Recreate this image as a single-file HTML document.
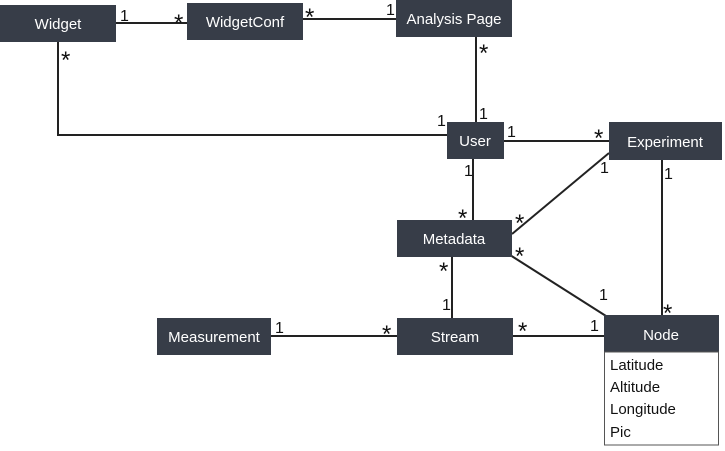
<!DOCTYPE html><html><head><style>
body{margin:0;background:#fff;}
svg text{font-family:"Liberation Sans",sans-serif;}
</style></head><body>
<svg width="725" height="446" xmlns="http://www.w3.org/2000/svg">
<g stroke="#222" stroke-width="2" fill="none">
<line x1="116" y1="23" x2="187" y2="23"/>
<line x1="303" y1="19" x2="396" y2="19"/>
<line x1="476" y1="37" x2="476" y2="122"/>
<polyline points="58,42 58,135 447,135"/>
<line x1="504" y1="141" x2="609" y2="141"/>
<line x1="473" y1="159" x2="473" y2="220"/>
<line x1="512" y1="234" x2="609" y2="153"/>
<line x1="510" y1="255" x2="606" y2="316"/>
<line x1="452" y1="257" x2="452" y2="318"/>
<line x1="513" y1="336" x2="604" y2="336"/>
<line x1="662" y1="160" x2="662" y2="315"/>
<line x1="271" y1="336" x2="397" y2="336"/>
</g>
<g fill="#373d48">
<rect x="0" y="5" width="116" height="37"/>
<rect x="187" y="3" width="116" height="37"/>
<rect x="396" y="0" width="116" height="37"/>
<rect x="447" y="122" width="57" height="37"/>
<rect x="609" y="122" width="113" height="38"/>
<rect x="397" y="220" width="115" height="37"/>
<rect x="397" y="318" width="116" height="37"/>
<rect x="157" y="318" width="114" height="37"/>
<rect x="604" y="315" width="115" height="37"/>
</g>
<rect x="604.5" y="352" width="114" height="93" fill="#fff" stroke="#555" stroke-width="1"/>
<g fill="#fff" font-size="15" text-anchor="middle">
<text x="58" y="29">Widget</text>
<text x="245" y="27">WidgetConf</text>
<text x="454" y="24">Analysis Page</text>
<text x="475" y="146">User</text>
<text x="665" y="147">Experiment</text>
<text x="454" y="244">Metadata</text>
<text x="455" y="342">Stream</text>
<text x="214" y="342">Measurement</text>
<text x="661" y="340">Node</text>
</g>
<g fill="#111" font-size="15">
<text x="610" y="370">Latitude</text>
<text x="610" y="392">Altitude</text>
<text x="610" y="414">Longitude</text>
<text x="610" y="437">Pic</text>
</g>
<g fill="#111" font-size="16">
<text x="120" y="21">1</text>
<text x="386" y="15">1</text>
<text x="479" y="119">1</text>
<text x="437" y="126">1</text>
<text x="507" y="137">1</text>
<text x="464" y="176">1</text>
<text x="600" y="173">1</text>
<text x="664" y="179">1</text>
<text x="442" y="310">1</text>
<text x="599" y="300">1</text>
<text x="590" y="331">1</text>
<text x="275" y="333">1</text>
</g>
<g fill="#111" font-size="24">
<text x="174" y="31">*</text>
<text x="305" y="25">*</text>
<text x="61" y="68">*</text>
<text x="479" y="61">*</text>
<text x="594" y="146">*</text>
<text x="458" y="226">*</text>
<text x="515" y="231">*</text>
<text x="515" y="264">*</text>
<text x="439" y="279">*</text>
<text x="663" y="321">*</text>
<text x="518" y="339">*</text>
<text x="382" y="342">*</text>
</g>
</svg>
</body></html>
